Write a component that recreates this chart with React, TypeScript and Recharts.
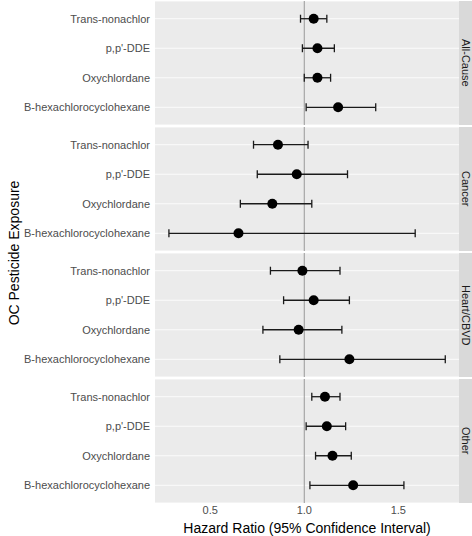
import React from 'react';
import {
  ScatterChart,
  Scatter,
  XAxis,
  YAxis,
  CartesianGrid,
  ReferenceLine,
  ErrorBar,
} from 'recharts';

// exposures, top to bottom inside each facet
const exposures = ['Trans-nonachlor', "p,p'-DDE", 'Oxychlordane', 'B-hexachlorocyclohexane'];
const causes = ['All-Cause', 'Cancer', 'Heart/CBVD', 'Other'];

const allCauseHR = [1.05, 1.07, 1.07, 1.18];
const allCauseLow = [0.98, 0.99, 1.0, 1.01];
const allCauseHigh = [1.12, 1.16, 1.14, 1.38];

const cancerHR = [0.86, 0.96, 0.83, 0.65];
const cancerLow = [0.73, 0.75, 0.66, 0.28];
const cancerHigh = [1.02, 1.23, 1.04, 1.59];

const heartHR = [0.99, 1.05, 0.97, 1.24];
const heartLow = [0.82, 0.89, 0.78, 0.87];
const heartHigh = [1.19, 1.24, 1.2, 1.75];

const otherHR = [1.11, 1.12, 1.15, 1.26];
const otherLow = [1.04, 1.01, 1.06, 1.03];
const otherHigh = [1.19, 1.22, 1.25, 1.53];

const xTicks = [0.5, 1.0, 1.5];

const hrByCause = [allCauseHR, cancerHR, heartHR, otherHR];
const lowByCause = [allCauseLow, cancerLow, heartLow, otherLow];
const highByCause = [allCauseHigh, cancerHigh, heartHigh, otherHigh];

const FONT = '"Liberation Sans", Arial, sans-serif';
const PANEL_H = 124;
const PANEL_W = 459;
const AXIS_W = 155;

const buildRows = (i: number) =>
  exposures.map((name, j) => ({
    name,
    pos: j + 1,
    hr: hrByCause[i][j],
    err: [hrByCause[i][j] - lowByCause[i][j], highByCause[i][j] - hrByCause[i][j]],
  }));

const Dot = (props: any) => <circle cx={props.cx} cy={props.cy} r={5} fill="#000000" />;

const Panel = ({ index }: { index: number }) => {
  const last = index === causes.length - 1;
  const rows = buildRows(index);
  return (
    <div style={{ position: 'absolute', left: 0, top: 1 + index * 126 }}>
      <ScatterChart
        width={PANEL_W}
        height={last ? PANEL_H + 33 : PANEL_H}
        margin={{ top: 0, right: 0, bottom: 0, left: 0 }}
      >
        <CartesianGrid fill="#EBEBEB" stroke="#FFFFFF" strokeWidth={0.8} vertical={false} />
        <XAxis
          type="number"
          dataKey="hr"
          domain={[0.206, 1.823]}
          allowDataOverflow
          ticks={xTicks}
          tickFormatter={(v: number) => v.toFixed(1)}
          hide={!last}
          height={last ? 33 : 0}
          axisLine={false}
          tickLine={false}
          tickSize={3}
          tickMargin={0}
          tick={{ fontSize: 11, fill: '#4D4D4D', fontFamily: FONT }}
          label={{
            value: 'Hazard Ratio (95% Confidence Interval)',
            position: 'insideBottom',
            offset: 3,
            fontSize: 14,
            fill: '#000000',
            fontFamily: FONT,
          }}
        />
        <YAxis
          type="number"
          dataKey="pos"
          domain={[0.4, 4.6]}
          reversed
          ticks={[1, 2, 3, 4]}
          tickFormatter={(v: number) => exposures[v - 1]}
          width={AXIS_W}
          axisLine={false}
          tickLine={false}
          tickSize={3}
          tickMargin={2}
          tick={{ fontSize: 11, fill: '#4D4D4D', fontFamily: FONT }}
          interval={0}
        />
        <ReferenceLine x={1} stroke="#999999" strokeWidth={1} />
        <Scatter data={rows} shape={Dot} isAnimationActive={false}>
          <ErrorBar
            dataKey="err"
            direction="x"
            width={4}
            stroke="#1A1A1A"
            strokeWidth={1.3}
            isAnimationActive={false}
          />
        </Scatter>
      </ScatterChart>
      <div
        style={{
          position: 'absolute',
          left: PANEL_W,
          top: 0,
          width: 13,
          height: PANEL_H,
          background: '#D9D9D9',
          display: 'flex',
          alignItems: 'center',
          justifyContent: 'center',
        }}
      >
        <span
          style={{
            writingMode: 'vertical-rl',
            fontSize: 11,
            color: '#1A1A1A',
            fontFamily: FONT,
            lineHeight: '13px',
            whiteSpace: 'nowrap',
          }}
        >
          {causes[index]}
        </span>
      </div>
    </div>
  );
};

export default function App() {
  return (
    <div
      style={{
        position: 'absolute',
        left: 0,
        top: 0,
        width: 472,
        height: 536,
        background: '#FFFFFF',
        fontFamily: FONT,
      }}
    >
      {causes.map((c, i) => (
        <Panel key={c} index={i} />
      ))}
      <div
        style={{
          position: 'absolute',
          left: 14,
          top: 253,
          transform: 'translate(-50%, -50%) rotate(-90deg)',
          fontSize: 14,
          color: '#000000',
          whiteSpace: 'nowrap',
        }}
      >
        OC Pesticide Exposure
      </div>
    </div>
  );
}
